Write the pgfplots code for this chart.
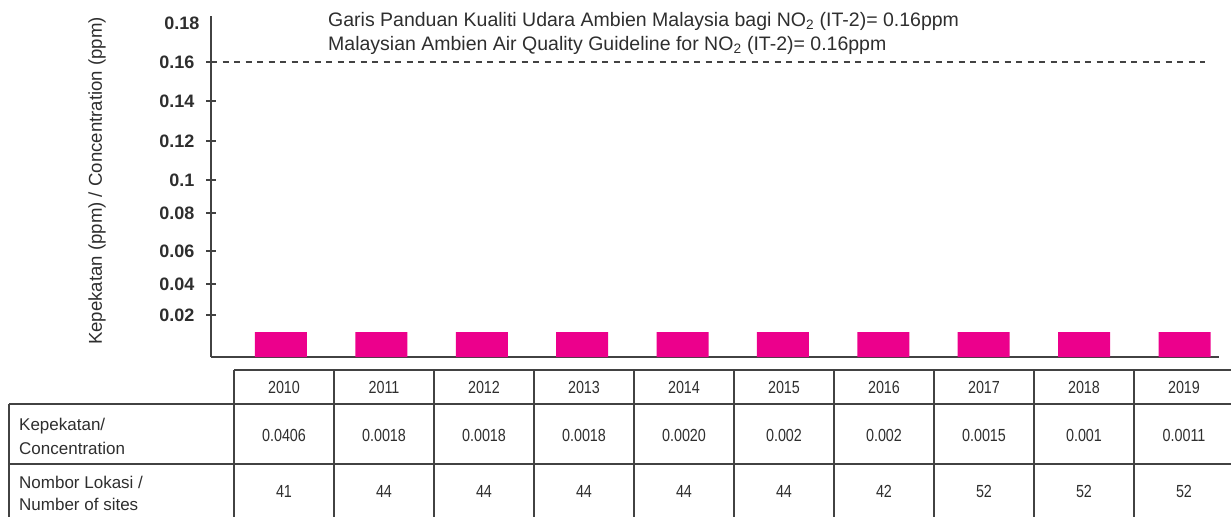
\documentclass[border=0pt]{standalone}
\usepackage{fontspec}
\setmainfont{Liberation Sans}
\newfontfamily\numfont{Liberation Sans}[FakeStretch=0.82]
\usepackage{pgfplots}
\pgfplotsset{compat=1.18}
\definecolor{barc}{HTML}{EC008C}
\definecolor{axc}{HTML}{424242}
\definecolor{txt}{HTML}{2E2E2E}

\pgfplotstableread{
x y
0 0.01356
1 0.01356
2 0.01356
3 0.01356
4 0.01356
5 0.01356
6 0.01356
7 0.01356
8 0.01356
9 0.01356
}\bars

\begin{document}
\begin{tikzpicture}
\path[use as bounding box] (0,0) rectangle (1231bp,-517bp);
\begin{axis}[
  at={(211bp,-357bp)}, anchor=south west,
  scale only axis, width=1008bp, height=341bp,
  xmin=-0.697, xmax=9.343, ymin=0, ymax=0.18495,
  axis lines*=left,
  axis line style={axc, line width=2.8bp},
  xtick=\empty,
  ytick={0.0228,0.0396,0.0575,0.0781,0.0960,0.1172,0.1388,0.16},
  yticklabels={0.02,0.04,0.06,0.08,0.1,0.12,0.14,0.16},
  extra y ticks={0.1812},
  extra y tick labels={0.18},
  extra y tick style={major tick length=0pt},
  tick align=center,
  major tick length=10bp,
  tick style={axc, line width=2bp},
  yticklabel style={font=\bfseries\fontsize{18bp}{20bp}\selectfont, text=txt, xshift=-8bp},
  clip=false,
]
\addplot[ybar, bar width=0.518, fill=barc, draw=none] table[x=x,y=y] {\bars};
\addplot[axc, line width=2.3bp, dash pattern=on 6bp off 5.5bp] coordinates {(-0.697,0.16) (9.2,0.16)};
\end{axis}

\begin{scope}[x=1bp, y=1bp]
% y label
\node[rotate=90, font=\fontsize{18.6bp}{21bp}\selectfont, text=txt] at (97,-181) {Kepekatan (ppm) / Concentration (ppm)};

% annotation
\node[anchor=west, inner sep=0pt, font=\fontsize{19.5bp}{22bp}\selectfont, text=txt] at (328,-21) {Garis Panduan Kualiti Udara Ambien Malaysia bagi NO\textsubscript{2} (IT-2)= 0.16ppm};
\node[anchor=west, inner sep=0pt, font=\fontsize{19.5bp}{22bp}\selectfont, text=txt] at (328,-45) {Malaysian Ambien Air Quality Guideline for NO\textsubscript{2} (IT-2)= 0.16ppm};

% table lines
\begin{scope}[axc, line width=2bp]
\draw (234,-370) -- (1231,-370);
\draw (9,-404) -- (1231,-404);
\draw (9,-464) -- (1231,-464);
\draw (9,-404) -- (9,-517);
\foreach \i in {0,...,9} {
  \draw ({234+100*\i},-370) -- ({234+100*\i},-517);
}
\end{scope}

% table text
\begin{scope}[font=\numfont\fontsize{17.5bp}{19bp}\selectfont, text=txt]
\foreach \yr [count=\i from 0] in {2010,2011,2012,2013,2014,2015,2016,2017,2018,2019} {
  \node at ({284+100*\i},-387) {\yr};
}
\foreach \v [count=\i from 0] in {0.0406,0.0018,0.0018,0.0018,0.0020,0.002,0.002,0.0015,0.001,0.0011} {
  \node at ({284+100*\i},-435) {\v};
}
\foreach \v [count=\i from 0] in {41,44,44,44,44,44,42,52,52,52} {
  \node at ({284+100*\i},-491) {\v};
}
\end{scope}
\begin{scope}[font=\fontsize{17bp}{19bp}\selectfont, text=txt]
\node[anchor=west, inner sep=0pt] at (19,-426) {Kepekatan/};
\node[anchor=west, inner sep=0pt] at (19,-448) {Concentration};
\node[anchor=west, inner sep=0pt] at (19,-482) {Nombor Lokasi /};
\node[anchor=west, inner sep=0pt] at (19,-504) {Number of sites};
\end{scope}
\end{scope}
\end{tikzpicture}
\end{document}
